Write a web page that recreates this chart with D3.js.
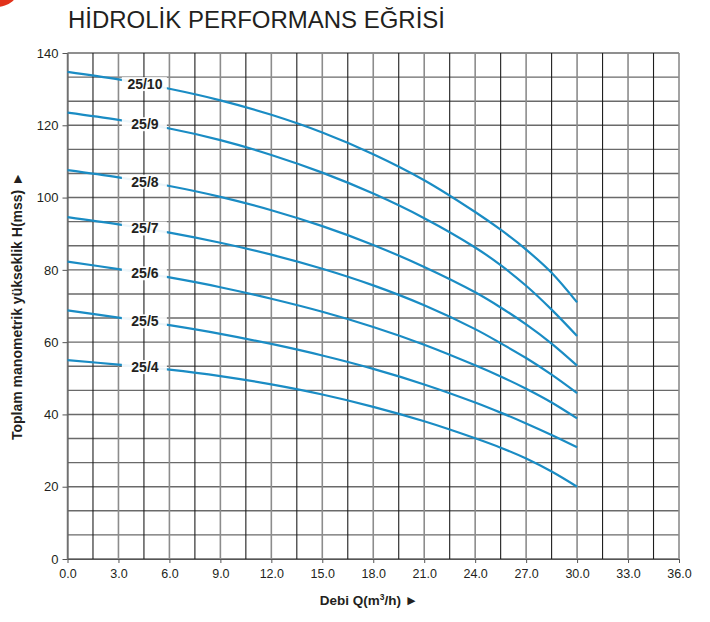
<!DOCTYPE html>
<html>
<head>
<meta charset="utf-8">
<script src="https://cdn.jsdelivr.net/npm/d3@7"></script>
<style>
  html, body { margin: 0; padding: 0; background: #fff; }
  svg { display: block; }
</style>
</head>
<body>
<svg id="chart" width="710" height="622"></svg>
<script>
const flowQ = [0, 3, 6, 9, 12, 15, 18, 21, 24, 25.5, 27, 28.5, 30];
const seriesNames = ["25/10", "25/9", "25/8", "25/7", "25/6", "25/5", "25/4"];
const head_25_10 = [134.8, 132.7, 130.1, 126.9, 122.9, 118.0, 112.0, 104.8, 96.0, 91.1, 85.6, 79.2, 71.0];
const head_25_9  = [123.5, 121.5, 119.1, 115.9, 111.8, 106.9, 101.1, 94.3, 86.2, 81.3, 75.6, 69.0, 61.7];
const head_25_8  = [107.6, 105.6, 103.2, 100.2, 96.5, 92.1, 86.9, 80.8, 73.8, 69.6, 64.9, 59.6, 53.5];
const head_25_7  = [94.6, 92.6, 90.3, 87.5, 84.2, 80.3, 75.7, 70.2, 63.6, 59.7, 55.6, 51.0, 45.9];
const head_25_6  = [82.3, 80.2, 77.9, 75.2, 72.0, 68.4, 64.2, 59.3, 53.6, 50.5, 47.1, 43.3, 38.9];
const head_25_5  = [68.8, 66.8, 64.7, 62.3, 59.5, 56.3, 52.6, 48.3, 43.3, 40.5, 37.5, 34.3, 30.9];
const head_25_4  = [55.0, 53.8, 52.4, 50.6, 48.3, 45.5, 42.1, 38.1, 33.4, 30.8, 27.8, 24.2, 20.0];
const xTickValues = [0, 3, 6, 9, 12, 15, 18, 21, 24, 27, 30, 33, 36];
const yTickValues = [0, 20, 40, 60, 80, 100, 120, 140];
const labelQ = 4.5;

const headSeries = [head_25_10, head_25_9, head_25_8, head_25_7, head_25_6, head_25_5, head_25_4];

const svg = d3.select("#chart");
const L = 67.5, R = 679, T = 53, B = 559;

const x = d3.scaleLinear().domain([0, 36]).range([L, R]);
const y = d3.scaleLinear().domain([0, 140]).range([B, T]);

// red corner decoration
svg.append("ellipse").attr("cx", -4).attr("cy", -12).attr("rx", 23).attr("ry", 19)
  .attr("fill", "#e2321b");

// title
svg.append("text").attr("x", 68).attr("y", 28)
  .attr("font-family", "Liberation Sans, Arial, sans-serif")
  .attr("font-size", 24.5).attr("fill", "#231f20")
  .attr("textLength", 377).attr("lengthAdjust", "spacingAndGlyphs")
  .text("HİDROLİK PERFORMANS EĞRİSİ");

const grid = svg.append("g");
// horizontal grid lines every 20/3
const hLines = d3.range(0, 22).map(i => i * 20 / 3).filter(v => v <= 140.01);
grid.selectAll("line.h").data(hLines).join("line")
  .attr("x1", L).attr("x2", R)
  .attr("y1", d => y(d)).attr("y2", d => y(d))
  .attr("stroke", "#6a6a6a").attr("stroke-width", 1.4);
// vertical grid lines every 1.5
const vLines = d3.range(0, 25).map(i => i * 1.5);
grid.selectAll("line.v").data(vLines).join("line")
  .attr("x1", d => x(d)).attr("x2", d => x(d))
  .attr("y1", T).attr("y2", B)
  .attr("stroke", (d, i) => i % 2 === 0 ? "#8c8c8c" : "#1e1e1e")
  .attr("stroke-width", (d, i) => i % 2 === 0 ? 1.6 : 1.1);

// axes
const xAxis = d3.axisBottom(x).tickValues(xTickValues).tickFormat(d3.format(".1f")).tickSize(4).tickSizeOuter(0);
const gx = svg.append("g").attr("transform", `translate(0,${B})`).call(xAxis);
gx.select(".domain").attr("stroke", "#555");
gx.selectAll(".tick line").attr("stroke", "#555");
gx.selectAll("text").attr("font-family", "Liberation Sans, Arial, sans-serif")
  .attr("font-size", 12.5).attr("fill", "#231f20").attr("dy", "0.95em");

const yAxis = d3.axisLeft(y).tickValues(yTickValues).tickSize(5).tickSizeOuter(0);
const gy = svg.append("g").attr("transform", `translate(${L},0)`).call(yAxis);
gy.select(".domain").attr("stroke", "#555");
gy.selectAll(".tick line").attr("stroke", "#555");
gy.selectAll("text").attr("font-family", "Liberation Sans, Arial, sans-serif")
  .attr("font-size", 13).attr("fill", "#231f20").attr("x", -9);

// curves
const line = d3.line().x(d => x(d[0])).y(d => y(d[1])).curve(d3.curveCatmullRom.alpha(0.5));
const curves = svg.append("g");
headSeries.forEach((vals, i) => {
  const pts = flowQ.map((q, j) => [q, vals[j]]);
  curves.append("path").datum(pts).attr("d", line)
    .attr("fill", "none").attr("stroke", "#1a8cc4").attr("stroke-width", 2.2);
});

// labels with white background
const labels = svg.append("g");
headSeries.forEach((vals, i) => {
  const j = d3.bisectRight(flowQ, labelQ) - 1;
  const t = (labelQ - flowQ[j]) / (flowQ[j + 1] - flowQ[j]);
  const v = vals[j] + t * (vals[j + 1] - vals[j]);
  const cx = x(labelQ) + 1, cy = y(v);
  labels.append("rect").attr("x", x(3.2)).attr("y", cy - 7)
    .attr("width", x(5.85) - x(3.2)).attr("height", 14)
    .attr("fill", "#fff").attr("opacity", 0.92);
  labels.append("text").attr("x", cx).attr("y", cy + 5)
    .attr("text-anchor", "middle")
    .attr("font-family", "Liberation Sans, Arial, sans-serif")
    .attr("font-weight", "bold").attr("font-size", 14).attr("fill", "#231f20")
    .text(seriesNames[i]);
});

// axis titles
const xt = svg.append("text").attr("x", 369).attr("y", 605)
  .attr("text-anchor", "middle")
  .attr("font-family", "Liberation Sans, Arial, sans-serif")
  .attr("font-weight", "bold").attr("font-size", 13.5).attr("fill", "#231f20");
xt.append("tspan").text("Debi Q(m");
xt.append("tspan").attr("font-size", 8.5).attr("dy", -5).text("3");
xt.append("tspan").attr("dy", 5).text("/h) \u25BA");

svg.append("text")
  .attr("transform", "translate(22,306) rotate(-90)")
  .attr("text-anchor", "middle")
  .attr("font-family", "Liberation Sans, Arial, sans-serif")
  .attr("font-weight", "bold").attr("font-size", 14).attr("fill", "#231f20")
  .text("Toplam manometrik yükseklik H(mss) \u25BA");
</script>
</body>
</html>
